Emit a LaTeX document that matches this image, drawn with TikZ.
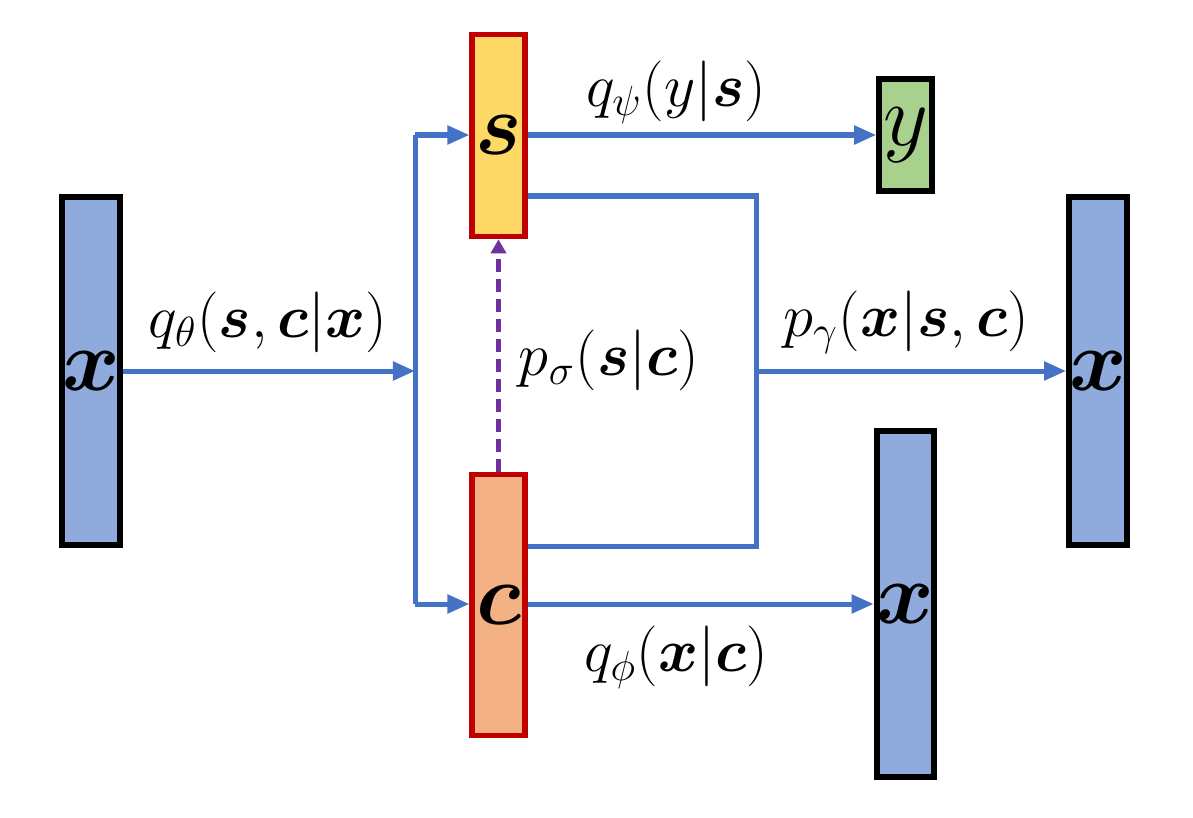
\documentclass[tikz,border=0pt]{standalone}
\usepackage{amsmath}
\usepackage{bm}
\usetikzlibrary{arrows.meta}
\definecolor{lineblue}{HTML}{4472C4}
\definecolor{boxblue}{HTML}{8FAADC}
\definecolor{boxyellow}{HTML}{FFD966}
\definecolor{boxorange}{HTML}{F4B183}
\definecolor{boxgreen}{HTML}{A9D18E}
\definecolor{boxred}{HTML}{C00000}
\definecolor{dashpurple}{HTML}{7030A0}
\tikzset{
  var/.style={draw=black, line width=0.06cm, minimum width=0.525cm, inner sep=0pt,
    font=\fontsize{28}{31}\selectfont},
  latent/.style={var, draw=boxred, line width=0.055cm},
  conn/.style={draw=lineblue, line width=0.05cm},
  arr/.style={conn, -{Triangle[length=0.22cm,width=0.18cm]}},
  lab/.style={font=\fontsize{18.5}{22}\selectfont, inner sep=0pt},
  dasharr/.style={draw=dashpurple, line width=0.045cm, dash pattern=on 0.13cm off 0.07cm,
    -{Triangle[length=0.14cm,width=0.15cm]}}
}
\begin{document}
\begin{tikzpicture}[x=0.01cm, y=-0.01cm]
\useasboundingbox (0,0) rectangle (1193,818);
% boxes
\node[var, fill=boxblue, minimum height=3.48cm] (xin) at (91,371) {$\bm{x}$};
\node[latent, fill=boxyellow, minimum height=2.02cm] (s) at (498.5,135.5) {$\bm{s}$};
\node[latent, fill=boxorange, minimum height=2.61cm] (c) at (498.5,605) {$\bm{c}$};
\node[var, fill=boxgreen, minimum height=1.12cm] (y) at (905.5,135) {$y$};
\node[var, fill=boxblue, minimum height=3.46cm] (xc) at (905.5,604) {$\bm{x}$};
\node[var, fill=boxblue, minimum height=3.48cm] (xout) at (1098,371) {$\bm{x}$};
% junction coordinates
\coordinate (jin) at (415,371);
\coordinate (jtop) at (415,135);
\coordinate (jbot) at (415,604);
\coordinate (rtop) at (756,196);
\coordinate (rmid) at (756,371);
\coordinate (rbot) at (756,546);
% connectors
\draw[arr] (xin.east |- jin) -- (jin);
\draw[conn] (jtop) -- (jbot);
\draw[arr] (jtop) -- (s.west |- jtop);
\draw[arr] (jbot) -- (c.west |- jbot);
\draw[arr] (s.east |- y) -- (y.west);
\draw[conn] (s.east |- rtop) -- (rtop) -- (rbot) -- (c.east |- rbot);
\draw[arr] (rmid) -- (xout.west |- rmid);
\draw[arr] (c.east |- xc) -- (xc.west);
\draw[dasharr] (c.north) -- (s.south);
% labels
\node[lab] (l1) at (268,322) {$q_\theta(\bm{s},\bm{c}|\bm{x})$};
\node[lab] (l2) at (609,360) {$p_\sigma(\bm{s}|\bm{c})$};
\node[lab] (l3) at (676,92) {$q_\psi(y|\bm{s})$};
\node[lab] (l4) at (906,322) {$p_\gamma(\bm{x}|\bm{s},\bm{c})$};
\node[lab] (l5) at (676,657) {$q_\phi(\bm{x}|\bm{c})$};
\end{tikzpicture}
\end{document}
